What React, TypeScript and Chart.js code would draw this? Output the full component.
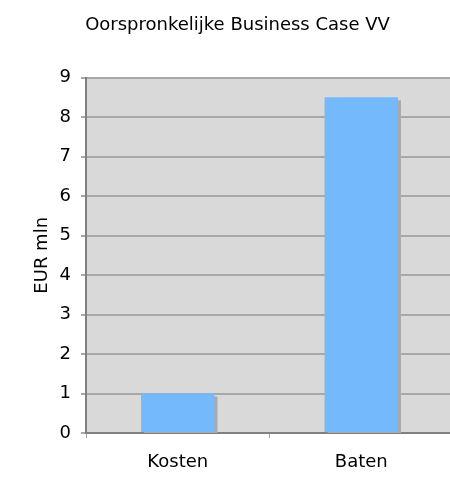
import React, { useEffect, useRef } from "react";
import { Chart, registerables } from "chart.js";

Chart.register(...registerables);

const categories = ["Kosten", "Baten"];
const values = [1.0, 8.5];
const yMin = 0;
const yMax = 9;
const yStep = 1;
const chartTitle = "Oorspronkelijke Business Case VV";
const yAxisTitle = "EUR mln";

const FONT = "'DejaVu Sans', Verdana, sans-serif";
const CANVAS_W = 460;
const CANVAS_H = 485;

const plotBackground = {
  id: "plotBackground",
  beforeDraw(chart: any) {
    const { ctx, chartArea: a } = chart;
    ctx.save();
    ctx.fillStyle = "#d9d9d9";
    ctx.fillRect(a.left, a.top, a.right - a.left, a.bottom - a.top);
    ctx.restore();
  },
};

const barShadow = {
  id: "barShadow",
  beforeDatasetDraw(chart: any) {
    const ctx = chart.ctx;
    ctx.save();
    ctx.shadowColor = "#a9a9a9";
    ctx.shadowOffsetX = 3;
    ctx.shadowOffsetY = 3;
    ctx.shadowBlur = 0;
  },
  afterDatasetDraw(chart: any) {
    chart.ctx.restore();
  },
};

export default function App() {
  const ref = useRef<HTMLCanvasElement | null>(null);

  useEffect(() => {
    if (!ref.current) return;
    const chart = new Chart(ref.current, {
      type: "bar",
      data: {
        labels: categories,
        datasets: [
          {
            data: values,
            backgroundColor: "#74b9fb",
            borderWidth: 0,
            categoryPercentage: 0.8,
            barPercentage: 0.5,
          },
        ],
      },
      options: {
        responsive: false,
        animation: false,
        devicePixelRatio: 1,
        layout: { padding: { left: 22, right: CANVAS_W - 453, top: 0, bottom: 0 } },
        plugins: {
          legend: { display: false },
          tooltip: { enabled: false },
          title: {
            display: true,
            text: chartTitle,
            color: "#000",
            font: { family: FONT, size: 18, weight: "normal" },
            padding: { top: 15, bottom: 41 },
          },
        },
        scales: {
          x: {
            offset: true,
            grid: {
              display: true,
              drawOnChartArea: false,
              drawTicks: true,
              tickLength: 5,
              offset: true,
              color: "#a8a8a8",
              lineWidth: 1,
            },
            border: { display: true, color: "#808080", width: 2 },
            ticks: {
              color: "#000",
              font: { family: FONT, size: 18 },
              padding: 14,
            },
            afterFit(scale: any) {
              scale.height = 52;
            },
          },
          y: {
            min: yMin,
            max: yMax,
            grid: {
              color: "#a8a8a8",
              lineWidth: 2,
              drawTicks: true,
              tickLength: 5,
            },
            border: { display: true, color: "#808080", width: 2 },
            ticks: {
              stepSize: yStep,
              color: "#000",
              font: { family: FONT, size: 18 },
              padding: 10,
            },
            title: {
              display: true,
              text: yAxisTitle,
              color: "#000",
              font: { family: FONT, size: 18 },
              padding: { top: 10, bottom: 0 },
            },
            afterFit(scale: any) {
              scale.width = 64;
            },
          },
        },
      },
      plugins: [plotBackground, barShadow],
    });
    return () => chart.destroy();
  }, []);

  return (
    <div
      style={{
        position: "fixed",
        left: 0,
        top: 0,
        width: 450,
        height: 485,
        overflow: "hidden",
        background: "#fff",
      }}
    >
      <canvas
        ref={ref}
        width={CANVAS_W}
        height={CANVAS_H}
        style={{ display: "block", width: CANVAS_W, height: CANVAS_H }}
      />
    </div>
  );
}
